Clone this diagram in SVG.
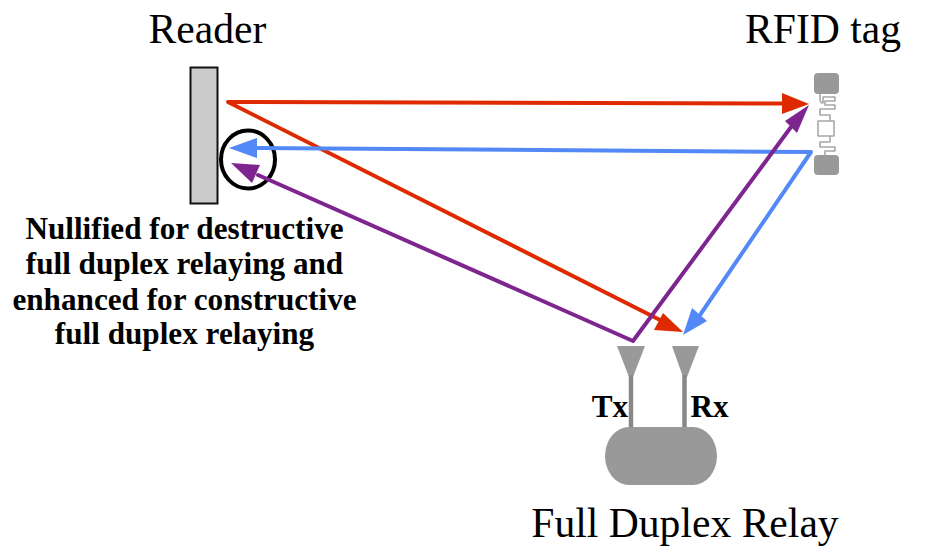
<svg xmlns="http://www.w3.org/2000/svg" width="925" height="552" viewBox="0 0 925 552">
<style>
text{font-family:"Liberation Serif","Times New Roman",serif;fill:#000;text-anchor:middle}
.t{font-size:41.600px}
.b{font-size:31.200px;font-weight:bold}
.g{fill:#999}
.w{fill:none;stroke:#a8a8a8;stroke-width:1.600;stroke-linejoin:round}
.st{stroke:#888;stroke-width:4.500;fill:none}
.c{fill:none;stroke-width:4;stroke-linejoin:round;stroke-linecap:round}
</style>
<rect width="925" height="552" fill="#fff"/>
<g id="reader">
<rect x="190.500" y="67.500" width="27" height="136" fill="#cbcbcb" stroke="#111" stroke-width="2"/>
<text class="t" x="207.500" y="43">Reader</text>
</g>
<g id="nullified">
<ellipse cx="248" cy="159.500" rx="27" ry="29" fill="none" stroke="#000" stroke-width="4"/>
<text class="b"><tspan x="184.500" y="239">Nullified for destructive</tspan><tspan x="184.500" y="274">full duplex relaying and</tspan><tspan x="184.500" y="310">enhanced for constructive</tspan><tspan x="184.500" y="344">full duplex relaying</tspan></text>
</g>
<g id="rfid-tag">
<text class="t" x="823" y="43">RFID tag</text>
<rect class="g" x="814" y="73" width="25" height="21" rx="4"/>
<rect class="g" x="814" y="155" width="25" height="20" rx="4"/>
<path class="w" d="M820 94V99Q820 103 823 103V97H835V101H825V105H835V109H820V115H830V121H818V136H830V142H820V147H835V151H825V155M830 121H834V136H830"/>
</g>
<g id="relay">
<path class="g" d="M617 346H645L633 377H629Z"/>
<path class="g" d="M672 346H699L687 377H683Z"/>
<path class="st" d="M631 375V429M684.500 375V429"/>
<rect class="g" x="605" y="427" width="112" height="58" rx="24" ry="29"/>
<text class="b" x="610" y="417">Tx</text>
<text class="b" x="709.500" y="417">Rx</text>
<text class="t" x="685" y="537">Full Duplex Relay</text>
</g>
<g id="connectors">
<path class="c" stroke="#df2a00" d="M782 103.500L228 102L660 320"/>
<path d="M809 104L782 93V114Z" fill="#df2a00"/>
<path d="M683 332L654 330L663 313Z" fill="#df2a00"/>
<path class="c" stroke="#5289f6" d="M255 148L811 152L700 315"/>
<path d="M229 148L257 138V158Z" fill="#5289f6"/>
<path d="M683 335L692 308L707 321Z" fill="#5289f6"/>
<path class="c" stroke="#7f2590" d="M258 175L633 341L791 127"/>
<path d="M231 163L260 165L252 183Z" fill="#7f2590"/>
<path d="M809 105L797 133L785 121Z" fill="#7f2590"/>
</g>
</svg>
